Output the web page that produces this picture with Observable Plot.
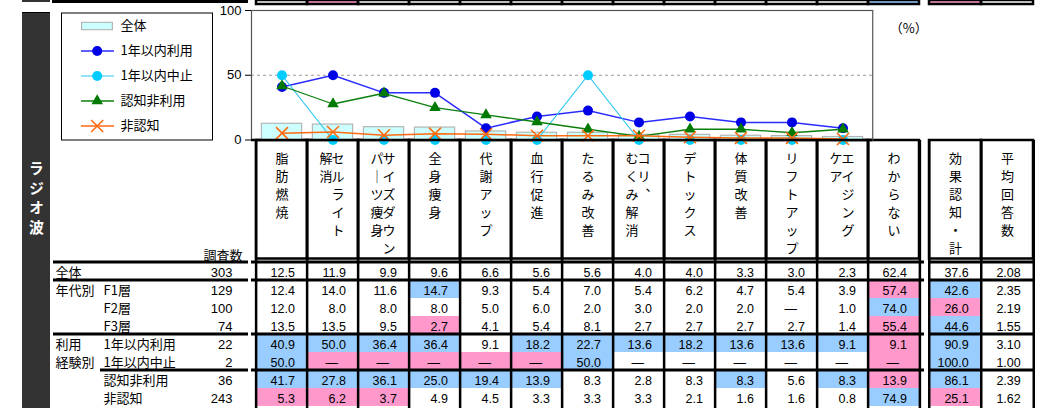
<!DOCTYPE html>
<html><head><meta charset="utf-8">
<script src="https://cdn.jsdelivr.net/npm/d3@7"></script>
<script src="https://cdn.jsdelivr.net/npm/@observablehq/plot@0.6"></script>
<style>
html,body{margin:0;padding:0;background:#fff;}
#wrap{position:relative;width:1039px;height:408px;overflow:hidden;background:#fff;}
#wrap svg{position:absolute;left:0;top:0;overflow:visible;}
#side{position:absolute;left:21.5px;top:161px;width:28.5px;writing-mode:vertical-rl;color:#fff;font-family:'Noto Sans CJK JP',sans-serif;font-weight:bold;font-size:15px;letter-spacing:4.5px;line-height:28.5px;text-align:left;}
</style></head><body>
<div id="wrap">
  <div style="position:absolute;left:21.5px;top:0;width:28.5px;height:2px;background:#333"></div>
  <div style="position:absolute;left:52px;top:0;width:196px;height:3px;background:#000"></div>
  <div style="position:absolute;left:21.5px;top:11.5px;width:28.5px;height:400px;background:#333;border-top:1px solid #000"></div>
  <div id="side">ラジオ波</div>
</div>
<script>
// ---------------- data ----------------
const effects = ["脂肪燃焼","セルライト解消","サイズダウンパーツ痩身","全身痩身","代謝アップ","血行促進","たるみ改善","コリ、むくみ解消","デトックス","体質改善","リフトアップ","エイジングケア"];
const dontKnow = "わからない";
const sideCols = ["効果認知・計","平均回答数"];
const headerLines = [["脂肪燃焼"],["セルライト","解消"],["サイズダウン","パーツ痩身"],["全身痩身"],["代謝アップ"],["血行促進"],["たるみ改善"],["コリ、","むくみ解消"],["デトックス"],["体質改善"],["リフトアップ"],["エイジング","ケア"],["わからない"],["効果認知・計"],["平均回答数"]];
const rowKeys = ["全体","F1層","F2層","F3層","1年以内利用","1年以内中止","認知非利用","非認知"];
const rowGroups = ["全体","年代別","","","利用","経験別","",""];
const rowNames = ["","F1層","F2層","F3層","1年以内利用","1年以内中止","認知非利用","非認知"];
const rowN = ["303","129","100","74","22","2","36","243"];
const tableValues = [
  ["12.5","11.9","9.9","9.6","6.6","5.6","5.6","4.0","4.0","3.3","3.0","2.3","62.4","37.6","2.08"],
  ["12.4","14.0","11.6","14.7","9.3","5.4","7.0","5.4","6.2","4.7","5.4","3.9","57.4","42.6","2.35"],
  ["12.0","8.0","8.0","8.0","5.0","6.0","2.0","3.0","2.0","2.0","—","1.0","74.0","26.0","2.19"],
  ["13.5","13.5","9.5","2.7","4.1","5.4","8.1","2.7","2.7","2.7","2.7","1.4","55.4","44.6","1.55"],
  ["40.9","50.0","36.4","36.4","9.1","18.2","22.7","13.6","18.2","13.6","13.6","9.1","9.1","90.9","3.10"],
  ["50.0","—","—","—","—","—","50.0","—","—","—","—","—","—","100.0","1.00"],
  ["41.7","27.8","36.1","25.0","19.4","13.9","8.3","2.8","8.3","8.3","5.6","8.3","13.9","86.1","2.39"],
  ["5.3","6.2","3.7","4.9","4.5","3.3","3.3","3.3","2.1","1.6","1.6","0.8","74.9","25.1","1.62"]
];
// b = significantly higher (blue), p = significantly lower (pink)
const tableMarks = [
  "...............",
  "...b........pb.",
  "............bp.",
  "...p........pb.",
  "bbbb.bbbbbbbpb.",
  "bpppppb.....pb.",
  "bbbbbb...b.bpb.",
  "ppp.........bp."
];
const prevMarks = ".p..........bp.";
const barSeries = "全体";
const lineSeries = ["1年以内利用","1年以内中止","認知非利用","非認知"];
const legendSeries = ["全体","1年以内利用","1年以内中止","認知非利用","非認知"];

// ---------------- styles ----------------
const W = 1039, H = 408;
const jp = "'Noto Sans CJK JP', sans-serif";
const num = "'Liberation Sans', Arial, sans-serif";
const BLUE = "#99ccff", PINK = "#ff99cc";
const seriesStyle = {
  "1年以内利用": {stroke:"#2b2bff", width:1.5, symbol:"circle", fill:"#0000e6", r:5},
  "1年以内中止": {stroke:"#2ac6f2", width:1.2, symbol:"circle", fill:"#00ccff", r:5},
  "認知非利用": {stroke:"#0b7f0b", width:1.3, symbol:"triangle", fill:"#007a00", r:4.3},
  "非認知": {stroke:"#ff6a10", width:1.5, symbol:"times", fill:null, r:5.5}
};
const svgStyle = {background:"transparent", overflow:"visible"};
const colRange = [251, 924];
const colW = (colRange[1]-colRange[0]) / 13;
const sideRange = [928, 1033];
const rowRange = [258.5, 408.9];
const rowH = (rowRange[1]-rowRange[0]) / rowKeys.length;
const sepRows = ["全体","F1層","1年以内利用","認知非利用"];

const toNum = v => v === "—" ? 0 : +v;
const vert = s => Array.from(s).map(ch => ch === "ー" ? "｜" : ch === "、" ? "︑" : ch).join("\n");

const wrap = document.getElementById("wrap");

// ---------------- table ----------------
function tablePlot(cols, offset, range) {
  const bw = (range[1]-range[0]) / cols.length;
  const cells = [];
  rowKeys.forEach((r, i) => cols.forEach((c, j) => cells.push({row:r, col:c, text:tableValues[i][offset+j], mark:tableMarks[i][offset+j]})));
  const heads = [];
  cols.forEach((c, j) => {
    const lines = headerLines[offset+j];
    lines.forEach((l, k) => heads.push({col:c, text:vert(l), side: lines.length === 1 ? 0 : (k === 0 ? 1 : -1)}));
  });
  const strip = cols.map((c, j) => ({col:c, mark:prevMarks[offset+j]}));
  const last = cols[cols.length-1];
  const tOpts = {x:"col", y:"row", text:"text", textAnchor:"end", fontFamily:num, fontSize:12.5, dy:1.5};
  const hOpts = {x:"col", text:"text", frameAnchor:"top", lineAnchor:"top", dy:150, lineHeight:1.38, fontSize:13, fontFamily:jp};
  return Plot.plot({
    width:W, height:H, marginTop:0, marginBottom:0, marginLeft:range[0], marginRight:W - range[1], style:svgStyle,
    x:{type:"band", domain:cols, range, padding:0, axis:null},
    y:{type:"band", domain:rowKeys, range:rowRange, padding:0, axis:null},
    marks:[
      Plot.cell(strip.filter(d => d.mark === "b"), {x:"col", fill:BLUE, insetBottom:H-4}),
      Plot.cell(strip.filter(d => d.mark === "p"), {x:"col", fill:PINK, insetBottom:H-4}),
      Plot.cell(strip, {x:"col", fill:"none", stroke:"#000", strokeWidth:2.5, insetBottom:H-4}),
      Plot.cell(cells.filter(d => d.mark === "b"), {x:"col", y:"row", fill:BLUE}),
      Plot.cell(cells.filter(d => d.mark === "p"), {x:"col", y:"row", fill:PINK}),
      Plot.text(cells.filter(d => d.text !== "—"), {...tOpts, dx:bw/2 - 13}),
      Plot.text(cells.filter(d => d.text === "—"), {...tOpts, dx:bw/2 - 21}),
      Plot.text(heads.filter(d => d.side === 0), hOpts),
      Plot.text(heads.filter(d => d.side === 1), {...hOpts, dx:5}),
      Plot.text(heads.filter(d => d.side === -1), {...hOpts, dx:-7}),
      Plot.cell(cols, {x:d => d, insetTop:140, insetBottom:H - rowRange[0], fill:"none", stroke:"#000", strokeWidth:2.5}),
      Plot.ruleX(cols, {x:d => d, dx:-bw/2, insetTop:140, stroke:"#000", strokeWidth:2.5}),
      Plot.ruleX([last], {x:d => d, dx:bw/2, insetTop:140, stroke:"#000", strokeWidth:2.5}),
      Plot.ruleY(sepRows, {y:d => d, dy:-rowH/2, stroke:"#000", strokeWidth:3})
    ]
  });
}
wrap.appendChild(tablePlot([...effects, dontKnow], 0, colRange));
wrap.appendChild(tablePlot(sideCols, 13, sideRange));

// ---------------- row labels ----------------
const rows = rowKeys.map((k, i) => ({key:k, group:rowGroups[i], name:rowNames[i], n:rowN[i]}));
wrap.appendChild(Plot.plot({
  width:W, height:H, margin:0, marginLeft:53, marginRight:W-248, style:svgStyle,
  y:{type:"band", domain:rowKeys, range:rowRange, padding:0, axis:null},
  marks:[
    Plot.text(rows, {y:"key", text:"group", frameAnchor:"left", textAnchor:"start", dx:2, dy:1.5, fontFamily:jp, fontSize:13, letterSpacing:"0.8px"}),
    Plot.text(rows, {y:"key", text:"name", frameAnchor:"left", textAnchor:"start", dx:50, dy:1.5, fontFamily:jp, fontSize:13, letterSpacing:"0.8px"}),
    Plot.text(rows, {y:"key", text:"n", frameAnchor:"right", textAnchor:"end", dx:-16, dy:1.5, fontFamily:num, fontSize:13}),
    Plot.text(["調査数"], {y:() => rowKeys[0], frameAnchor:"right", textAnchor:"end", dx:-6, dy:-16, fontFamily:jp, fontSize:13, letterSpacing:"0.8px"}),
    Plot.ruleY(["全体","F1層","1年以内利用"], {y:d => d, dy:-rowH/2, stroke:"#000", strokeWidth:3}),
    Plot.ruleY(["認知非利用"], {y:d => d, dy:-rowH/2, insetLeft:47, stroke:"#000", strokeWidth:3})
  ]
}));

// ---------------- chart ----------------
const chartRight = colRange[0] + 12*colW;
const barRow = tableValues[rowKeys.indexOf(barSeries)];
const barData = effects.map((e, j) => ({effect:e, value:toNum(barRow[j])}));
const chartMarks = [
  Plot.ruleY([50, 100], {stroke:"#9a9a9a", strokeDasharray:"3,3"}),
  Plot.barY(barData, {x:"effect", y:"value", fill:"#ccffff", stroke:"#b5b5b5", strokeWidth:1.2, insetLeft:5.4, insetRight:5.4}),
];
for (const s of lineSeries) {
  const row = tableValues[rowKeys.indexOf(s)];
  const data = effects.map((e, j) => ({effect:e, value:toNum(row[j])}));
  const st = seriesStyle[s];
  chartMarks.push(Plot.line(data, {x:"effect", y:"value", stroke:st.stroke, strokeWidth:st.width}));
  chartMarks.push(st.fill
    ? Plot.dot(data, {x:"effect", y:"value", symbol:st.symbol, r:st.r, fill:st.fill, stroke:"none"})
    : Plot.dot(data, {x:"effect", y:"value", symbol:st.symbol, r:st.r, stroke:st.stroke, strokeWidth:1.6}));
}
chartMarks.push(Plot.frame({stroke:"#555", strokeWidth:1.2}));
chartMarks.push(Plot.ruleY([0], {stroke:"#000", strokeWidth:2.5}));
chartMarks.push(Plot.text(["（%）"], {frameAnchor:"top-right", dx:55, dy:13, fontSize:13, fontFamily:jp}));
wrap.appendChild(Plot.plot({
  width:W, height:H, marginLeft:colRange[0], marginRight:W - chartRight, marginTop:10, marginBottom:H-139.5,
  style:{...svgStyle, fontSize:"13px", fontFamily:"'Liberation Sans Narrow','Liberation Sans',sans-serif"},
  x:{type:"band", domain:effects, range:[colRange[0], chartRight], padding:0, axis:null},
  y:{domain:[0,100], range:[139.5,10], ticks:2, tickSize:6, tickPadding:4, label:null, line:true},
  marks:chartMarks
}));

// ---------------- legend ----------------
const legendMarks = [
  Plot.frame({stroke:"#000", strokeWidth:1}),
  Plot.ruleY([barSeries], {y:d => d, insetLeft:20, insetRight:99, stroke:"#b5b5b5", strokeWidth:8.5}),
  Plot.ruleY([barSeries], {y:d => d, insetLeft:21.2, insetRight:100.2, stroke:"#ccffff", strokeWidth:6.2}),
  Plot.text(legendSeries, {y:d => d, text:d => d, frameAnchor:"left", textAnchor:"start", dx:59, fontFamily:jp, fontSize:13, letterSpacing:"0.8px"})
];
for (const s of lineSeries) {
  const st = seriesStyle[s];
  legendMarks.push(Plot.ruleY([s], {y:d => d, insetLeft:20, insetRight:98, stroke:st.stroke, strokeWidth:st.width}));
  legendMarks.push(st.fill
    ? Plot.dot([s], {y:d => d, frameAnchor:"left", dx:35.7, symbol:st.symbol, r:st.r, fill:st.fill, stroke:"none"})
    : Plot.dot([s], {y:d => d, frameAnchor:"left", dx:35.7, symbol:st.symbol, r:st.r, stroke:st.stroke, strokeWidth:1.6}));
}
wrap.appendChild(Plot.plot({
  width:W, height:H, marginLeft:61, marginRight:W-212, marginTop:12.5, marginBottom:H-139.5, style:svgStyle,
  y:{type:"band", domain:legendSeries, range:[13,138], padding:0, axis:null},
  marks:legendMarks
}));
</script>
</body></html>
